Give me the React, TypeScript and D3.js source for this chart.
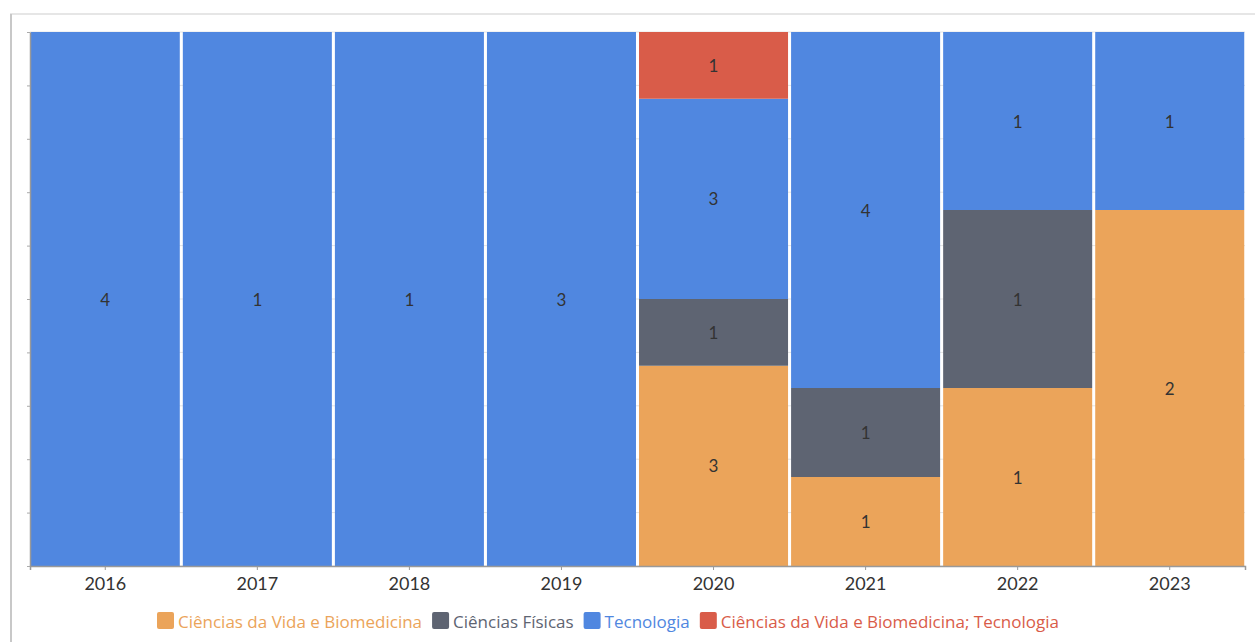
import { useEffect, useRef } from 'react';
import * as d3 from 'd3';

const years = ['2016', '2017', '2018', '2019', '2020', '2021', '2022', '2023'];
const seriesNames = [
    'Ciências da Vida e Biomedicina',
    'Ciências Físicas',
    'Tecnologia',
    'Ciências da Vida e Biomedicina; Tecnologia',
];
const cienciasVida = [0, 0, 0, 0, 3, 1, 1, 2];
const cienciasFisicas = [0, 0, 0, 0, 1, 1, 1, 0];
const tecnologia = [4, 1, 1, 3, 3, 4, 1, 1];
const vidaTecnologia = [0, 0, 0, 0, 1, 0, 0, 0];
const colors = ['#EBA45A', '#5E6472', '#5087E0', '#D95C49'];

type Row = { year: string; [key: string]: number | string };

const App: React.FC = () => {
    const svgRef = useRef<SVGSVGElement | null>(null);

    useEffect(() => {
        if (!svgRef.current) return;
        const svg = d3.select(svgRef.current);
        svg.selectAll('*').remove();

        const width = 1255;
        const height = 642;
        const margin = { top: 32, right: 10, bottom: 76, left: 30 };

        const values = [cienciasVida, cienciasFisicas, tecnologia, vidaTecnologia];
        const rows: Row[] = years.map((year, i) => {
            const r: Row = { year };
            seriesNames.forEach((s, j) => (r[s] = values[j][i]));
            return r;
        });

        const stack = d3
            .stack<Row>()
            .keys(seriesNames)
            .value((d, k) => d[k] as number)
            .offset(d3.stackOffsetExpand);
        const series = stack(rows);

        const x = d3
            .scaleBand()
            .domain(years)
            .range([margin.left, width - margin.right])
            .paddingInner(0.02)
            .paddingOuter(0.005);

        const y = d3.scaleLinear().domain([0, 1]).range([height - margin.bottom, margin.top]);

        // card background with soft edge
        svg.append('rect').attr('x', 0).attr('y', 0).attr('width', width).attr('height', height).attr('fill', '#fff');
        svg
            .append('path')
            .attr('d', `M11,${height} V14 H${width}`)
            .attr('fill', 'none')
            .attr('stroke', '#e6e6e6')
            .attr('stroke-width', 2);
        svg
            .append('line')
            .attr('x1', 11)
            .attr('x2', 11)
            .attr('y1', 14)
            .attr('y2', height)
            .attr('stroke', '#c8c8c8')
            .attr('stroke-width', 2);

        // gridlines
        svg
            .append('g')
            .selectAll('line')
            .data(d3.range(0, 1.0001, 0.1))
            .join('line')
            .attr('x1', margin.left)
            .attr('x2', width - margin.right)
            .attr('y1', (d) => y(d))
            .attr('y2', (d) => y(d))
            .attr('stroke', '#e4e4e4')
            .attr('stroke-width', 1);

        // bars
        const g = svg.append('g');
        series.forEach((s, si) => {
            g.append('g')
                .attr('fill', colors[si])
                .selectAll('rect')
                .data(s)
                .join('rect')
                .attr('x', (d) => x(d.data.year) as number)
                .attr('width', x.bandwidth())
                .attr('y', (d) => y(d[1]))
                .attr('height', (d) => Math.max(0, y(d[0]) - y(d[1])));
        });

        // segment labels
        series.forEach((s, si) => {
            g.append('g')
                .selectAll('text')
                .data(s.filter((d) => (d.data[seriesNames[si]] as number) > 0))
                .join('text')
                .attr('x', (d) => (x(d.data.year) as number) + x.bandwidth() / 2)
                .attr('y', (d) => (y(d[0]) + y(d[1])) / 2)
                .attr('text-anchor', 'middle')
                .attr('dominant-baseline', 'central')
                .attr('font-family', 'Lato, sans-serif')
                .attr('font-size', 17)
                .attr('fill', '#333')
                .text((d) => String(d.data[seriesNames[si]]));
        });

        // axes
        const xAxis = svg
            .append('g')
            .attr('transform', `translate(0,${height - margin.bottom})`)
            .call(d3.axisBottom(x).tickSizeOuter(0).tickSize(4).tickPadding(7));
        xAxis.select('.domain').attr('stroke', '#999').attr('stroke-width', 1.5);
        xAxis.selectAll('.tick line').attr('stroke', '#999');
        xAxis
            .selectAll('text')
            .attr('font-family', 'Lato, sans-serif')
            .attr('font-size', 18)
            .attr('fill', '#333');

        const yAxis = svg
            .append('g')
            .attr('transform', `translate(${margin.left},0)`)
            .call(d3.axisLeft(y).ticks(10).tickSize(3).tickFormat(() => '').tickSizeOuter(0));
        yAxis.select('.domain').attr('stroke', '#999').attr('stroke-width', 1.5);
        yAxis.selectAll('.tick line').attr('stroke', '#aaa');

        // legend
        const legend = svg.append('g').attr('transform', `translate(0,620)`);
        let lx = 157;
        seriesNames.forEach((name, i) => {
            const item = legend.append('g').attr('transform', `translate(${lx},0)`);
            item.append('rect')
                .attr('x', 0)
                .attr('y', -8)
                .attr('width', 17)
                .attr('height', 17)
                .attr('rx', 2)
                .attr('fill', colors[i]);
            const t = item
                .append('text')
                .attr('x', 21)
                .attr('y', 1)
                .attr('dominant-baseline', 'central')
                .attr('font-family', '"Open Sans", sans-serif')
                .attr('font-size', 17)
                .attr('fill', colors[i])
                .text(name);
            const w = (t.node() as SVGTextElement).getComputedTextLength();
            lx += 21 + w + 10;
        });
    }, []);

    return <svg ref={svgRef} width={1255} height={642} style={{ position: 'absolute', left: 0, top: 0 }} />;
};

export default App;
